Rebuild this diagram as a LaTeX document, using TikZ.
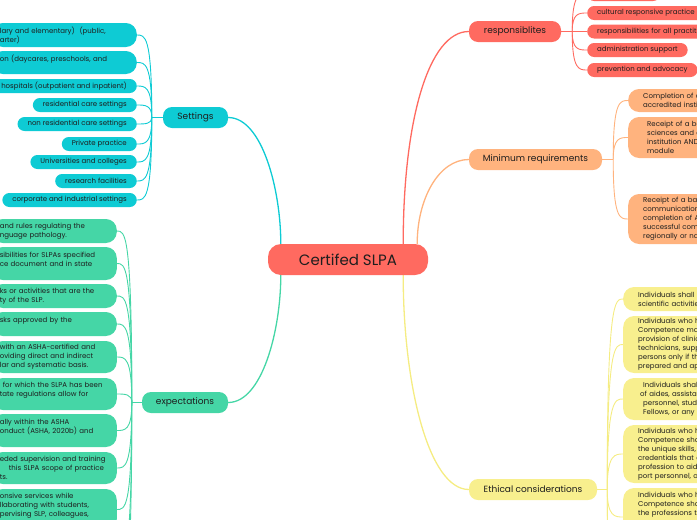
\documentclass[tikz,border=0pt]{standalone}
\usepackage{fontspec}
\setmainfont{Poppins}
\usetikzlibrary{calc,backgrounds}
\definecolor{cred}{HTML}{FF6A60}
\definecolor{ccyan}{HTML}{0ECBD4}
\definecolor{cgreen}{HTML}{45D6A6}
\definecolor{corange}{HTML}{FFB37E}
\definecolor{cyellow}{HTML}{F8EF8E}
\definecolor{cyellowl}{HTML}{F5EC82}
\definecolor{ctext}{HTML}{1E1E1E}
\tikzset{
  box/.style={rectangle, inner ysep=0pt, text=ctext, font=\fontsize{7}{9}\selectfont},
  pill/.style={box, rounded corners=7pt, minimum height=14pt, inner xsep=10pt},
  multi/.style={box, rounded corners=11pt, align=left},
  leftcut/.style={multi, anchor=east, inner xsep=8pt, text width=#1},
  rightcut/.style={multi, anchor=west, inner xsep=15pt, text width=100pt},
  mainbox/.style={rectangle, rounded corners=9pt, minimum height=21pt, inner sep=0pt, text=ctext, font=\fontsize{9}{11}\selectfont},
  link/.style={line width=1.3pt},
  sub/.style={line width=0.9pt},
}
\begin{document}
\begin{tikzpicture}[x=1pt,y=-1pt]
\useasboundingbox (0,0) rectangle (697,520);
\clip (0,0) rectangle (697,520);

% centre
\node[rectangle, rounded corners=13pt, fill=cred, minimum width=160pt, minimum height=31pt, inner sep=0pt, text=ctext, font=\fontsize{15}{17}\selectfont] (c) at (348,259.5) {Certifed SLPA};

% main branches
\node[mainbox, fill=ccyan, minimum width=65pt] (set) at (195.5,117.5) {Settings};
\node[mainbox, fill=cgreen, minimum width=86pt] (exp) at (185,402.5) {expectations};
\node[mainbox, fill=cred, minimum width=92pt] (resp) at (515,31.5) {responsiblites};
\node[mainbox, fill=corange, minimum width=133pt] (minr) at (535.5,159.5) {Minimum requirements};
\node[mainbox, fill=cyellow, minimum width=128pt] (eth) at (533,489.5) {Ethical considerations};

% Settings children
\node[leftcut=129pt, fill=ccyan, minimum height=24pt] (s1) at (137,35) {lary and elementary)\ \ (public,\\arter)};
\node[leftcut=129pt, fill=ccyan, minimum height=23pt] (s2) at (137,62.5) {on (daycares, preschools, and\\\mbox{}};
\node[pill, fill=ccyan, anchor=east] (s3) at (137,86) {hospitals (outpatient and inpatient)};
\node[pill, fill=ccyan, anchor=east] (s4) at (137,105) {residential care settings};
\node[pill, fill=ccyan, anchor=east] (s5) at (137,124) {non residential care settings};
\node[pill, fill=ccyan, anchor=east] (s6) at (137,144) {Private practice};
\node[pill, fill=ccyan, anchor=east] (s7) at (137,162) {Universities and colleges};
\node[pill, fill=ccyan, anchor=east] (s8) at (137,181) {research facilities};
\node[pill, fill=ccyan, anchor=east] (s9) at (137,200) {corporate and industrial settings};

% expectations children
\node[leftcut=109pt, fill=cgreen, minimum height=24pt] (e1) at (117,231) {and rules regulating the\\nguage pathology.};
\node[leftcut=109pt, fill=cgreen, minimum height=33pt] (e2) at (117,263.5) {sibilities for SLPAs specified\\ce document and in state\\\mbox{}};
\node[leftcut=109pt, fill=cgreen, minimum height=24pt] (e3) at (117,296) {ks or activities that are the\\ty of the SLP.};
\node[leftcut=109pt, fill=cgreen, minimum height=24pt] (e4) at (117,324) {sks approved by the\\\mbox{}};
\node[leftcut=109pt, fill=cgreen, minimum height=32pt] (e5) at (117,357) {with an ASHA-certified and\\oviding direct and indirect\\lar and systematic basis.};
\node[leftcut=109pt, fill=cgreen, minimum height=32pt] (e6) at (117,394) {\hspace*{3pt}for which the SLPA has been\\tate regulations allow for\\\mbox{}};
\node[leftcut=109pt, fill=cgreen, minimum height=33pt] (e7) at (117,430.5) {ally within the ASHA\\onduct (ASHA, 2020b) and\\\mbox{}};
\node[leftcut=109pt, fill=cgreen, minimum height=32pt] (e8) at (117,468) {eded supervision and training\\\hspace*{9pt}this SLPA scope of practice\\ts.};
\node[leftcut=109pt, fill=cgreen, minimum height=41pt] (e9) at (117,509.5) {onsive services while\\llaborating with students,\\pervising SLP, colleagues,\\\mbox{}};
\coordinate (ex1) at (117,560);
\coordinate (ex2) at (117,600);

% responsibilities children
\node[pill, fill=cred, anchor=west, minimum width=73pt] (r0) at (587,-6) {};
\node[pill, fill=cred, anchor=west] (r1) at (587,13) {cultural responsive practice};
\node[pill, fill=cred, anchor=west, text width=120pt, align=left] (r2) at (587,31.5) {responsibilities for all practit};
\node[pill, fill=cred, anchor=west] (r3) at (587,50) {administration support};
\node[pill, fill=cred, anchor=west] (r4) at (587,70) {prevention and advocacy};

% minimum requirements children
\node[rightcut, fill=corange, minimum height=23pt] (m1) at (628,100.5) {Completion of a\\accredited instit};
\node[rightcut, fill=corange, minimum height=41pt, inner xsep=19pt] (m2) at (628,137.5) {Receipt of a ba\\sciences and d\\institution AND\\module};
\node[rightcut, fill=corange, minimum height=50pt] (m3) at (628,219) {Receipt of a ba\\communication\\completion of A\\successful comp\\regionally or na};

% ethical children
\node[rightcut, fill=cyellow, minimum height=24pt] (y1) at (623,299) {Individuals shall p\\scientific activities};
\node[rightcut, fill=cyellow, minimum height=57pt] (y2) at (623,344.5) {Individuals who h\\Competence may\\provision of clinic\\technicians, supp\\persons only if th\\prepared and app};
\node[rightcut, fill=cyellow, minimum height=42pt, inner xsep=17pt] (y3) at (623,399) {\hspace*{3pt}Individuals shall\\of aides, assista\\\hspace*{3pt}personnel, stude\\\hspace*{3pt}Fellows, or any c};
\node[rightcut, fill=cyellow, minimum height=58pt] (y4) at (623,454) {Individuals who h\\Competence shal\\the unique skills, l\\credentials that a\\profession to aide\\port personnel, o};
\node[rightcut, fill=cyellow, minimum height=58pt] (y5) at (623,517) {Individuals who h\\Competence shal\\the professions th\\\mbox{}\\\mbox{}\\\mbox{}};
\coordinate (ey1) at (623,585);
\coordinate (ey2) at (623,640);

\begin{scope}[on background layer]
% main links
\draw[link, ccyan] ($(c.north west)+(13,0)$) .. controls ($(c.north west)+(13,-54)$) and ($(set.east)+(34,0)$) .. (set.east);
\draw[link, cgreen] ($(c.south west)+(13,0)$) .. controls ($(c.south west)+(13,55)$) and ($(exp.east)+(34,0)$) .. (exp.east);
\draw[link, cred] ($(c.north east)+(-25,0)$) .. controls ($(c.north east)+(-25,-124)$) and ($(resp.west)+(-40,0)$) .. (resp.west);
\draw[link, corange] ($(c.north east)+(-11,0)$) .. controls ($(c.north east)+(-11,-45)$) and ($(minr.west)+(-30,0)$) .. (minr.west);
\draw[link, cyellowl] ($(c.south east)+(-25,0)$) .. controls ($(c.south east)+(-25,110)$) and ($(eth.west)+(-40,0)$) .. (eth.west);

% settings sublinks
\coordinate (ts) at ($(set.west)+(-11,0)$);
\draw[sub, ccyan] (set.west) -- (ts);
\foreach \n in {s1,s2,s3,s4,s5,s6,s7,s8,s9}
  \draw[sub, ccyan] (ts) .. controls (ts |- \n.east) and ($(\n.east)+(8,0)$) .. (\n.east);

% expectations sublinks
\coordinate (te) at ($(exp.west)+(-10,0)$);
\draw[sub, cgreen] (exp.west) -- (te);
\foreach \n in {e1,e2,e3,e4,e5,e6,e7,e8,e9}
  \draw[sub, cgreen] (te) .. controls (te |- \n.east) and ($(\n.east)+(8,0)$) .. (\n.east);
\foreach \n in {ex1,ex2}
  \draw[sub, cgreen] (te) .. controls (te |- \n) and ($(\n)+(8,0)$) .. (\n);

% responsibilities sublinks
\coordinate (tr) at ($(resp.east)+(11,0)$);
\draw[sub, cred] (resp.east) -- (tr);
\foreach \n in {r0,r1,r2,r3,r4}
  \draw[sub, cred] (tr) .. controls (tr |- \n.west) and ($(\n.west)+(-8,0)$) .. (\n.west);

% minimum requirements sublinks
\coordinate (tm) at ($(minr.east)+(11,0)$);
\draw[sub, corange] (minr.east) -- (tm);
\foreach \n in {m1,m2,m3}
  \draw[sub, corange] (tm) .. controls (tm |- \n.west) and ($(\n.west)+(-8,0)$) .. (\n.west);

% ethical sublinks
\coordinate (ty) at ($(eth.east)+(10,0)$);
\draw[sub, cyellowl] (eth.east) -- (ty);
\foreach \n in {y1,y2,y3,y4,y5}
  \draw[sub, cyellowl] (ty) .. controls (ty |- \n.west) and ($(\n.west)+(-8,0)$) .. (\n.west);
\foreach \n in {ey1,ey2}
  \draw[sub, cyellowl] (ty) .. controls (ty |- \n) and ($(\n)+(-8,0)$) .. (\n);
\end{scope}
\end{tikzpicture}
\end{document}
